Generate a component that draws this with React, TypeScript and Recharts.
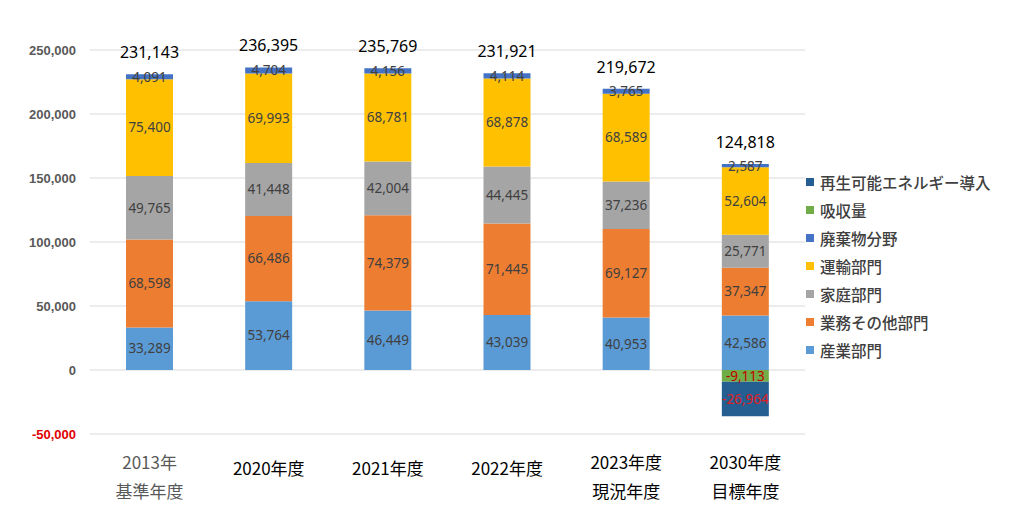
import React from 'react';
import { BarChart, Bar, XAxis, YAxis, CartesianGrid, Legend, LabelList } from 'recharts';

// 年度ラベル（2行）
const categories = ['2013年\n基準年度', '2020年度', '2021年度', '2022年度', '2023年度\n現況年度', '2030年度\n目標年度'];

// 部門別排出量（t-CO2）
const industry = [33289, 53764, 46449, 43039, 40953, 42586];
const business = [68598, 66486, 74379, 71445, 69127, 37347];
const household = [49765, 41448, 42004, 44445, 37236, 25771];
const transport = [75400, 69993, 68781, 68878, 68589, 52604];
const waste = [4091, 4704, 4156, 4114, 3765, 2587];
const absorption = [null, null, null, null, null, -9113];
const renewable = [null, null, null, null, null, -26964];
const totals = [231143, 236395, 235769, 231921, 219672, 124818];

const yTicks = [-50000, 0, 50000, 100000, 150000, 200000, 250000];

// 積み上げ順（下から）
const series = [
  { key: 'industry', name: '産業部門', color: '#5B9BD5', values: industry },
  { key: 'business', name: '業務その他部門', color: '#ED7D31', values: business },
  { key: 'household', name: '家庭部門', color: '#A5A5A5', values: household },
  { key: 'transport', name: '運輸部門', color: '#FFC000', values: transport },
  { key: 'waste', name: '廃棄物分野', color: '#4472C4', values: waste },
  { key: 'absorption', name: '吸収量', color: '#70AD47', values: absorption },
  { key: 'renewable', name: '再生可能エネルギー導入', color: '#255E91', values: renewable },
];

const data = categories.map((cat, i) => {
  const row: Record<string, any> = { cat, total: totals[i] };
  series.forEach((s) => {
    row[s.key] = s.values[i];
  });
  return row;
});

const fmt = (v: number) => v.toLocaleString('en-US');

const YTick = ({ x, y, payload }: any) => (
  <text
    x={x}
    y={y}
    dy={5}
    textAnchor="end"
    fill={payload.value < 0 ? '#E00000' : '#595959'}
    fontSize={13}
    fontWeight="bold"
    fontFamily="'Liberation Sans', Arial, sans-serif"
  >
    {fmt(payload.value)}
  </text>
);

const XTick = ({ x, y, payload, index }: any) => {
  const lines = String(payload.value).split('\n');
  const top = lines.length > 1 ? 27 : 33;
  return (
    <text
      x={x}
      y={y}
      textAnchor="middle"
      fill={index === 0 ? '#595959' : '#000000'}
      fontSize={17}
      fontWeight={400}
      fontFamily="'Noto Sans CJK JP', sans-serif"
    >
      {lines.map((l, i) => (
        <tspan key={i} x={x} dy={i === 0 ? top : 29}>
          {l}
        </tspan>
      ))}
    </text>
  );
};

const labelStyle = { fontSize: 13.5, fontFamily: "'Noto Sans', sans-serif" };

const TotalLabel = ({ x, y, width, index }: any) => (
  <text
    x={x + width / 2}
    y={y - 16}
    textAnchor="middle"
    fill="#000000"
    fontSize={16}
    fontFamily="'Noto Sans', sans-serif"
  >
    {fmt(totals[index])}
  </text>
);

const LegendBox = () => (
  <div style={{ fontFamily: "'Noto Sans CJK JP', sans-serif", fontSize: 15.5, color: '#404040', fontWeight: 500 }}>
    {[...series].reverse().map((s) => (
      <div key={s.key} style={{ display: 'flex', alignItems: 'center', height: 28 }}>
        <span style={{ width: 8, height: 8, background: s.color, marginRight: 6, display: 'inline-block' }} />
        {s.name}
      </div>
    ))}
  </div>
);

export default function App() {
  return (
    <div style={{ position: 'absolute', left: 0, top: 0, background: '#fff' }}>
      <BarChart
        width={1017}
        height={527}
        data={data}
        stackOffset="sign"
        margin={{ top: 50, right: 212, left: 0, bottom: 0 }}
        barSize={47}
      >
        <CartesianGrid vertical={false} stroke="#D9D9D9" />
        <XAxis
          dataKey="cat"
          axisLine={false}
          tickLine={false}
          height={93}
          interval={0}
          tick={<XTick />}
        />
        <YAxis
          domain={[-50000, 250000]}
          ticks={yTicks}
          axisLine={false}
          tickLine={false}
          tickSize={0}
          tickMargin={14}
          width={90}
          interval={0}
          tick={<YTick />}
        />
        <Legend
          layout="vertical"
          align="center"
          verticalAlign="middle"
          content={<LegendBox />}
          wrapperStyle={{ left: 806, top: 168, width: 211, height: 200 }}
        />
        {series.map((s) => (
          <Bar key={s.key} dataKey={s.key} name={s.name} stackId="a" fill={s.color} isAnimationActive={false}>
            <LabelList
              dataKey={s.key}
              position="center"
              formatter={(v: any) => (v == null ? '' : fmt(v))}
              fill={s.key === 'absorption' ? '#C00000' : s.key === 'renewable' ? '#E02020' : '#404040'}
              style={labelStyle}
            />
            {s.key === 'waste' && <LabelList dataKey="total" content={<TotalLabel />} />}
          </Bar>
        ))}
      </BarChart>
    </div>
  );
}
